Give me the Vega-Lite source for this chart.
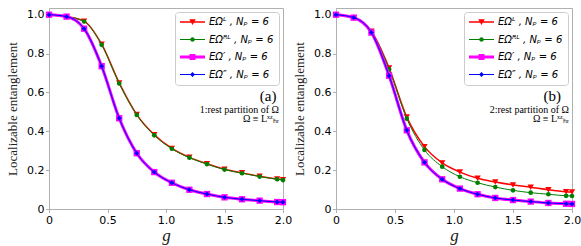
{
  "$schema": "https://vega.github.io/schema/vega-lite/v6.json",
  "padding": {"left": 6, "top": 7, "right": 0, "bottom": 1},
  "spacing": 0,
  "data": {"values": [
    {"p":"a","s":"EL","g":0,"v":1.0},{"p":"a","s":"EL","g":0.15,"v":0.99},{"p":"a","s":"EL","g":0.3,"v":0.967},{"p":"a","s":"EL","g":0.45,"v":0.848},{"p":"a","s":"EL","g":0.6,"v":0.649},{"p":"a","s":"EL","g":0.75,"v":0.486},{"p":"a","s":"EL","g":0.9,"v":0.382},{"p":"a","s":"EL","g":1.05,"v":0.312},{"p":"a","s":"EL","g":1.2,"v":0.266},{"p":"a","s":"EL","g":1.35,"v":0.233},{"p":"a","s":"EL","g":1.5,"v":0.205},{"p":"a","s":"EL","g":1.65,"v":0.186},{"p":"a","s":"EL","g":1.8,"v":0.169},{"p":"a","s":"EL","g":1.95,"v":0.155},{"p":"a","s":"EL","g":2.0,"v":0.151},
    {"p":"a","s":"ERL","g":0,"v":1.0},{"p":"a","s":"ERL","g":0.15,"v":0.99},{"p":"a","s":"ERL","g":0.3,"v":0.965},{"p":"a","s":"ERL","g":0.45,"v":0.845},{"p":"a","s":"ERL","g":0.6,"v":0.646},{"p":"a","s":"ERL","g":0.75,"v":0.484},{"p":"a","s":"ERL","g":0.9,"v":0.379},{"p":"a","s":"ERL","g":1.05,"v":0.31},{"p":"a","s":"ERL","g":1.2,"v":0.264},{"p":"a","s":"ERL","g":1.35,"v":0.231},{"p":"a","s":"ERL","g":1.5,"v":0.203},{"p":"a","s":"ERL","g":1.65,"v":0.184},{"p":"a","s":"ERL","g":1.8,"v":0.167},{"p":"a","s":"ERL","g":1.95,"v":0.153},{"p":"a","s":"ERL","g":2.0,"v":0.149},
    {"p":"a","s":"Ep","g":0,"v":1.0},{"p":"a","s":"Ep","g":0.15,"v":0.99},{"p":"a","s":"Ep","g":0.3,"v":0.928},{"p":"a","s":"Ep","g":0.45,"v":0.735},{"p":"a","s":"Ep","g":0.6,"v":0.467},{"p":"a","s":"Ep","g":0.75,"v":0.287},{"p":"a","s":"Ep","g":0.9,"v":0.19},{"p":"a","s":"Ep","g":1.05,"v":0.135},{"p":"a","s":"Ep","g":1.2,"v":0.099},{"p":"a","s":"Ep","g":1.35,"v":0.077},{"p":"a","s":"Ep","g":1.5,"v":0.06},{"p":"a","s":"Ep","g":1.65,"v":0.05},{"p":"a","s":"Ep","g":1.8,"v":0.043},{"p":"a","s":"Ep","g":1.95,"v":0.036},{"p":"a","s":"Ep","g":2.0,"v":0.035},
    {"p":"a","s":"Epp","g":0,"v":1.0},{"p":"a","s":"Epp","g":0.15,"v":0.99},{"p":"a","s":"Epp","g":0.3,"v":0.928},{"p":"a","s":"Epp","g":0.45,"v":0.735},{"p":"a","s":"Epp","g":0.6,"v":0.467},{"p":"a","s":"Epp","g":0.75,"v":0.287},{"p":"a","s":"Epp","g":0.9,"v":0.19},{"p":"a","s":"Epp","g":1.05,"v":0.135},{"p":"a","s":"Epp","g":1.2,"v":0.099},{"p":"a","s":"Epp","g":1.35,"v":0.077},{"p":"a","s":"Epp","g":1.5,"v":0.06},{"p":"a","s":"Epp","g":1.65,"v":0.05},{"p":"a","s":"Epp","g":1.8,"v":0.043},{"p":"a","s":"Epp","g":1.95,"v":0.036},{"p":"a","s":"Epp","g":2.0,"v":0.035},
    {"p":"b","s":"EL","g":0,"v":1.0},{"p":"b","s":"EL","g":0.15,"v":0.985},{"p":"b","s":"EL","g":0.3,"v":0.915},{"p":"b","s":"EL","g":0.45,"v":0.726},{"p":"b","s":"EL","g":0.6,"v":0.473},{"p":"b","s":"EL","g":0.75,"v":0.321},{"p":"b","s":"EL","g":0.9,"v":0.237},{"p":"b","s":"EL","g":1.05,"v":0.19},{"p":"b","s":"EL","g":1.2,"v":0.158},{"p":"b","s":"EL","g":1.35,"v":0.139},{"p":"b","s":"EL","g":1.5,"v":0.124},{"p":"b","s":"EL","g":1.65,"v":0.112},{"p":"b","s":"EL","g":1.8,"v":0.099},{"p":"b","s":"EL","g":1.95,"v":0.089},{"p":"b","s":"EL","g":2.0,"v":0.087},
    {"p":"b","s":"ERL","g":0,"v":1.0},{"p":"b","s":"ERL","g":0.15,"v":0.985},{"p":"b","s":"ERL","g":0.3,"v":0.913},{"p":"b","s":"ERL","g":0.45,"v":0.719},{"p":"b","s":"ERL","g":0.6,"v":0.465},{"p":"b","s":"ERL","g":0.75,"v":0.304},{"p":"b","s":"ERL","g":0.9,"v":0.218},{"p":"b","s":"ERL","g":1.05,"v":0.166},{"p":"b","s":"ERL","g":1.2,"v":0.135},{"p":"b","s":"ERL","g":1.35,"v":0.113},{"p":"b","s":"ERL","g":1.5,"v":0.096},{"p":"b","s":"ERL","g":1.65,"v":0.084},{"p":"b","s":"ERL","g":1.8,"v":0.076},{"p":"b","s":"ERL","g":1.95,"v":0.068},{"p":"b","s":"ERL","g":2.0,"v":0.067},
    {"p":"b","s":"Ep","g":0,"v":1.0},{"p":"b","s":"Ep","g":0.15,"v":0.985},{"p":"b","s":"Ep","g":0.3,"v":0.908},{"p":"b","s":"Ep","g":0.45,"v":0.686},{"p":"b","s":"Ep","g":0.6,"v":0.405},{"p":"b","s":"Ep","g":0.75,"v":0.24},{"p":"b","s":"Ep","g":0.9,"v":0.153},{"p":"b","s":"Ep","g":1.05,"v":0.105},{"p":"b","s":"Ep","g":1.2,"v":0.076},{"p":"b","s":"Ep","g":1.35,"v":0.057},{"p":"b","s":"Ep","g":1.5,"v":0.046},{"p":"b","s":"Ep","g":1.65,"v":0.038},{"p":"b","s":"Ep","g":1.8,"v":0.031},{"p":"b","s":"Ep","g":1.95,"v":0.027},{"p":"b","s":"Ep","g":2.0,"v":0.026},
    {"p":"b","s":"Epp","g":0,"v":1.0},{"p":"b","s":"Epp","g":0.15,"v":0.985},{"p":"b","s":"Epp","g":0.3,"v":0.908},{"p":"b","s":"Epp","g":0.45,"v":0.686},{"p":"b","s":"Epp","g":0.6,"v":0.405},{"p":"b","s":"Epp","g":0.75,"v":0.24},{"p":"b","s":"Epp","g":0.9,"v":0.153},{"p":"b","s":"Epp","g":1.05,"v":0.105},{"p":"b","s":"Epp","g":1.2,"v":0.076},{"p":"b","s":"Epp","g":1.35,"v":0.057},{"p":"b","s":"Epp","g":1.5,"v":0.046},{"p":"b","s":"Epp","g":1.65,"v":0.038},{"p":"b","s":"Epp","g":1.8,"v":0.031},{"p":"b","s":"Epp","g":1.95,"v":0.027},{"p":"b","s":"Epp","g":2.0,"v":0.026},
    {"p":"a","s":"leg","g":0,"v":1,"t":"EΩᴸ , Nₚ = 6"},{"p":"a","s":"leg","g":0,"v":1,"t":"EΩᴿᴸ , Nₚ = 6"},{"p":"a","s":"leg","g":0,"v":1,"t":"EΩ′ , Nₚ = 6"},{"p":"a","s":"leg","g":0,"v":1,"t":"EΩ″ , Nₚ = 6"},
    {"p":"b","s":"leg","g":0,"v":1,"t":"EΩᴸ , Nₚ = 6"},{"p":"b","s":"leg","g":0,"v":1,"t":"EΩᴿᴸ , Nₚ = 6"},{"p":"b","s":"leg","g":0,"v":1,"t":"EΩ′ , Nₚ = 6"},{"p":"b","s":"leg","g":0,"v":1,"t":"EΩ″ , Nₚ = 6"},
    {"p":"a","s":"big","g":1.944,"v":0.582,"t":"(a)"},{"p":"a","s":"small","g":1.966,"v":0.512,"t":"1:rest partition of Ω"},{"p":"a","s":"small","g":1.966,"v":0.461,"t":"Ω ≡ Lˣᶻₕᵣ"},
    {"p":"b","s":"big","g":1.907,"v":0.582,"t":"(b)"},{"p":"b","s":"small","g":1.975,"v":0.512,"t":"2:rest partition of Ω"},{"p":"b","s":"small","g":1.975,"v":0.461,"t":"Ω ≡ Lˣᶻₕᵣ"}
  ]},
  "hconcat": [
    {
      "width": 234, "height": 201,
      "transform": [{"filter": "datum.p == 'a'"}],
      "encoding": {
        "x": {"field": "g", "type": "quantitative", "scale": {"domain": [0, 2], "nice": false}, "axis": {"values": [0, 0.5, 1, 1.5, 2], "labelFlush": false, "labelExpr": "datum.value == 0 ? '0' : format(datum.value, '.1f')", "title": "g", "titleFontStyle": "italic", "titleFontSize": 17, "titlePadding": 2}},
        "y": {"field": "v", "type": "quantitative", "scale": {"domain": [0, 1.0345], "nice": false, "zero": false}, "axis": {"values": [0, 0.2, 0.4, 0.6, 0.8, 1.0], "labelFlush": false, "labelExpr": "datum.value == 0 ? '0' : format(datum.value, '.1f')", "title": "Localizable entanglement", "titleFontSize": 13, "titlePadding": 7}}
      },
      "layer": [
        {"transform": [{"filter": "datum.s == 'EL'"}], "mark": {"type": "line", "color": "#ff0000", "strokeWidth": 1.5, "interpolate": "monotone"}},
        {"transform": [{"filter": "datum.s == 'EL'"}], "mark": {"type": "point", "shape": "triangle-down", "filled": true, "color": "#ff0000", "size": 40, "opacity": 1}},
        {"transform": [{"filter": "datum.s == 'ERL'"}], "mark": {"type": "line", "color": "#008000", "strokeWidth": 1, "interpolate": "monotone"}},
        {"transform": [{"filter": "datum.s == 'ERL'"}], "mark": {"type": "point", "shape": "circle", "filled": true, "color": "#008000", "size": 22, "opacity": 1}},
        {"transform": [{"filter": "datum.s == 'Ep'"}], "mark": {"type": "line", "color": "#ff00ff", "strokeWidth": 3, "interpolate": "monotone"}},
        {"transform": [{"filter": "datum.s == 'Ep'"}], "mark": {"type": "point", "shape": "square", "filled": true, "color": "#ff00ff", "size": 40, "opacity": 1}},
        {"transform": [{"filter": "datum.s == 'Epp'"}], "mark": {"type": "line", "color": "#0000ff", "strokeWidth": 1, "interpolate": "monotone"}},
        {"transform": [{"filter": "datum.s == 'Epp'"}], "mark": {"type": "point", "shape": "diamond", "filled": true, "color": "#0000ff", "size": 24, "opacity": 1}},
        {"transform": [{"filter": "datum.s == 'leg'"}], "mark": {"type": "point", "filled": true, "opacity": 0},
         "encoding": {
           "color": {"field": "t", "type": "nominal", "sort": null, "scale": {"domain": ["EΩᴸ , Nₚ = 6", "EΩᴿᴸ , Nₚ = 6", "EΩ′ , Nₚ = 6", "EΩ″ , Nₚ = 6"], "range": ["#ff0000", "#008000", "#ff00ff", "#0000ff"]}, "legend": {"title": null}},
           "shape": {"field": "t", "type": "nominal", "sort": null, "scale": {"domain": ["EΩᴸ , Nₚ = 6", "EΩᴿᴸ , Nₚ = 6", "EΩ′ , Nₚ = 6", "EΩ″ , Nₚ = 6"], "range": ["M-1,-0.15H4V0.15H-1Z M0.85,-0.55L2.15,-0.55L1.5,0.6Z", "M-1,-0.1H4V0.1H-1Z M1.05,0A0.45,0.45 0 1,1 1.95,0A0.45,0.45 0 1,1 1.05,0Z", "M-1,-0.3H4V0.3H-1Z M0.9,-0.6H2.1V0.6H0.9Z", "M-1,-0.1H4V0.1H-1Z M1.5,-0.5L2,0L1.5,0.5L1,0Z"]}, "legend": {"title": null}}
         }},
        {"transform": [{"filter": "datum.s == 'big'"}], "mark": {"type": "text", "align": "right", "baseline": "middle", "font": "Liberation Serif", "fontSize": 15, "color": "#000"}, "encoding": {"text": {"field": "t"}}},
        {"transform": [{"filter": "datum.s == 'small'"}], "mark": {"type": "text", "align": "right", "baseline": "middle", "font": "Liberation Serif", "fontSize": 10, "color": "#000"}, "encoding": {"text": {"field": "t"}}}
      ]
    },
    {
      "width": 236, "height": 201,
      "transform": [{"filter": "datum.p == 'b'"}],
      "encoding": {
        "x": {"field": "g", "type": "quantitative", "scale": {"domain": [0, 2], "nice": false}, "axis": {"values": [0, 0.5, 1, 1.5, 2], "labelFlush": false, "labelExpr": "datum.value == 0 ? '0' : format(datum.value, '.1f')", "title": "g", "titleFontStyle": "italic", "titleFontSize": 17, "titlePadding": 2}},
        "y": {"field": "v", "type": "quantitative", "scale": {"domain": [0, 1.0345], "nice": false, "zero": false}, "axis": {"values": [0, 0.2, 0.4, 0.6, 0.8, 1.0], "labelFlush": false, "labelExpr": "datum.value == 0 ? '0' : format(datum.value, '.1f')", "title": "Localizable entanglement", "titleFontSize": 13, "titlePadding": 7}}
      },
      "layer": [
        {"transform": [{"filter": "datum.s == 'EL'"}], "mark": {"type": "line", "color": "#ff0000", "strokeWidth": 1.5, "interpolate": "monotone"}},
        {"transform": [{"filter": "datum.s == 'EL'"}], "mark": {"type": "point", "shape": "triangle-down", "filled": true, "color": "#ff0000", "size": 40, "opacity": 1}},
        {"transform": [{"filter": "datum.s == 'ERL'"}], "mark": {"type": "line", "color": "#008000", "strokeWidth": 1, "interpolate": "monotone"}},
        {"transform": [{"filter": "datum.s == 'ERL'"}], "mark": {"type": "point", "shape": "circle", "filled": true, "color": "#008000", "size": 22, "opacity": 1}},
        {"transform": [{"filter": "datum.s == 'Ep'"}], "mark": {"type": "line", "color": "#ff00ff", "strokeWidth": 3, "interpolate": "monotone"}},
        {"transform": [{"filter": "datum.s == 'Ep'"}], "mark": {"type": "point", "shape": "square", "filled": true, "color": "#ff00ff", "size": 40, "opacity": 1}},
        {"transform": [{"filter": "datum.s == 'Epp'"}], "mark": {"type": "line", "color": "#0000ff", "strokeWidth": 1, "interpolate": "monotone"}},
        {"transform": [{"filter": "datum.s == 'Epp'"}], "mark": {"type": "point", "shape": "diamond", "filled": true, "color": "#0000ff", "size": 24, "opacity": 1}},
        {"transform": [{"filter": "datum.s == 'leg'"}], "mark": {"type": "point", "filled": true, "opacity": 0},
         "encoding": {
           "color": {"field": "t", "type": "nominal", "sort": null, "scale": {"domain": ["EΩᴸ , Nₚ = 6", "EΩᴿᴸ , Nₚ = 6", "EΩ′ , Nₚ = 6", "EΩ″ , Nₚ = 6"], "range": ["#ff0000", "#008000", "#ff00ff", "#0000ff"]}, "legend": {"title": null}},
           "shape": {"field": "t", "type": "nominal", "sort": null, "scale": {"domain": ["EΩᴸ , Nₚ = 6", "EΩᴿᴸ , Nₚ = 6", "EΩ′ , Nₚ = 6", "EΩ″ , Nₚ = 6"], "range": ["M-1,-0.15H4V0.15H-1Z M0.85,-0.55L2.15,-0.55L1.5,0.6Z", "M-1,-0.1H4V0.1H-1Z M1.05,0A0.45,0.45 0 1,1 1.95,0A0.45,0.45 0 1,1 1.05,0Z", "M-1,-0.3H4V0.3H-1Z M0.9,-0.6H2.1V0.6H0.9Z", "M-1,-0.1H4V0.1H-1Z M1.5,-0.5L2,0L1.5,0.5L1,0Z"]}, "legend": {"title": null}}
         }},
        {"transform": [{"filter": "datum.s == 'big'"}], "mark": {"type": "text", "align": "right", "baseline": "middle", "font": "Liberation Serif", "fontSize": 15, "color": "#000"}, "encoding": {"text": {"field": "t"}}},
        {"transform": [{"filter": "datum.s == 'small'"}], "mark": {"type": "text", "align": "right", "baseline": "middle", "font": "Liberation Serif", "fontSize": 10, "color": "#000"}, "encoding": {"text": {"field": "t"}}}
      ]
    }
  ],
  "resolve": {"scale": {"color": "independent", "shape": "independent"}, "legend": {"color": "independent", "shape": "independent"}},
  "config": {
    "view": {"stroke": "#b0b0b0"},
    "axis": {"grid": false, "domainColor": "#b0b0b0", "tickColor": "#b0b0b0", "tickSize": 3.5, "labelPadding": 1.5, "labelFont": "DejaVu Sans", "labelFontSize": 11, "labelColor": "#000", "titleFont": "Liberation Serif", "titleFontWeight": "normal", "titleColor": "#222"},
    "legend": {"orient": "top-right", "offset": 4, "padding": 5, "strokeColor": "#cccccc", "fillColor": "#ffffff", "cornerRadius": 3, "labelFont": "DejaVu Sans", "labelFontSize": 10, "labelFontStyle": "italic", "labelColor": "#000", "symbolSize": 100, "symbolOpacity": 1, "symbolStrokeWidth": 0, "labelOffset": 19, "rowPadding": 7.5}
  }
}
